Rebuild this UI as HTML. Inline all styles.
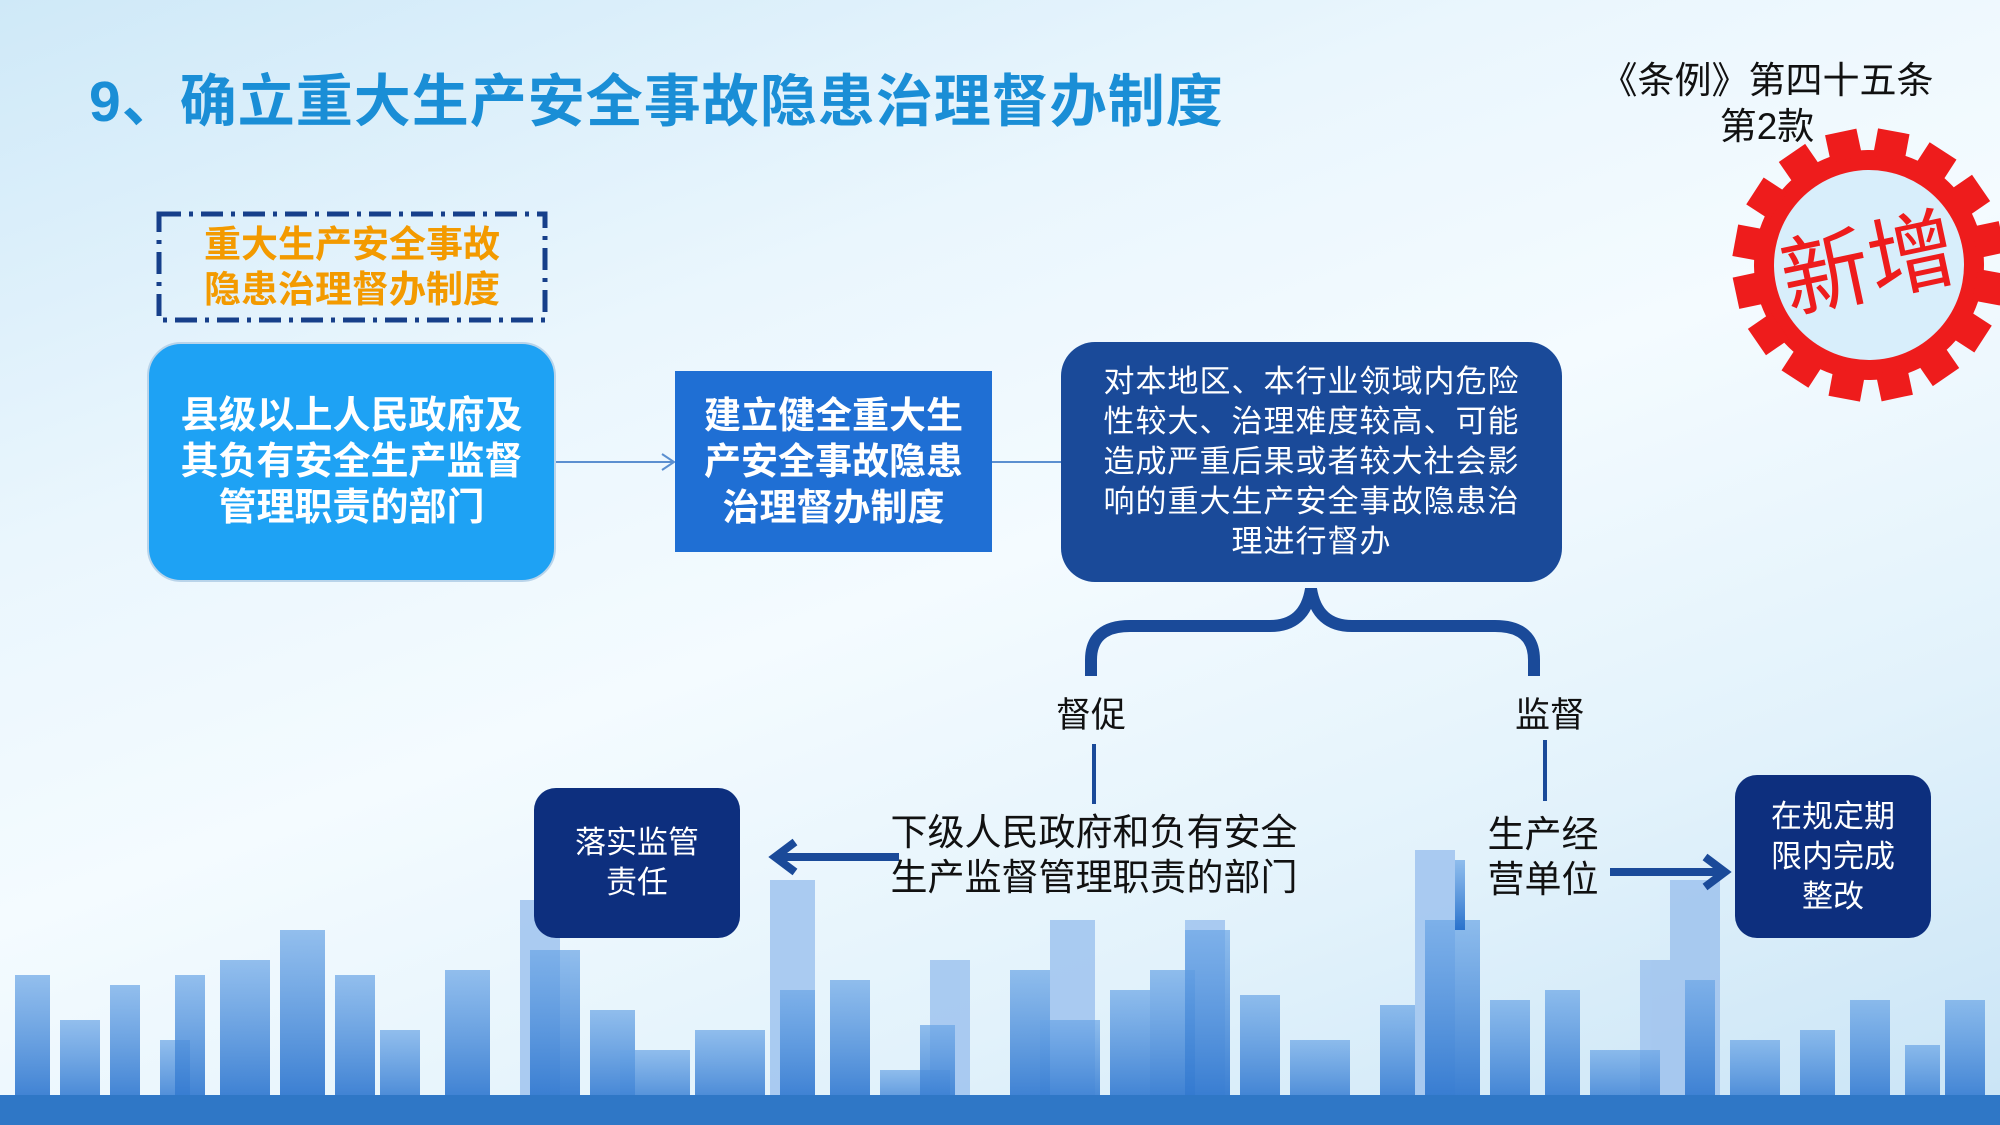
<!DOCTYPE html>
<html><head><meta charset="utf-8"><style>
html,body{margin:0;padding:0}
body{width:2000px;height:1125px;position:relative;overflow:hidden;font-family:"Liberation Sans","Noto Sans CJK SC",sans-serif;
background:linear-gradient(160deg,#cfe9f8 0%,#eaf6fd 30%,#f4fbff 50%,#e2f2fb 75%,#c9e4f6 100%);}
.a{position:absolute}
.c{display:flex;align-items:center;justify-content:center;text-align:center;color:#fff}
</style></head><body>
<svg class="a" style="left:0;top:0" width="2000" height="1125">
<defs><linearGradient id="sk" x1="0" y1="0" x2="0" y2="1"><stop offset="0" stop-color="#6aa5e6" stop-opacity="0.7"/><stop offset="1" stop-color="#2a72cc"/></linearGradient></defs>
<g fill="#9fc3ee" opacity="0.85">
<rect x="520" y="900" width="40" height="225"/><rect x="770" y="880" width="45" height="245"/><rect x="1050" y="920" width="45" height="205"/><rect x="1415" y="850" width="40" height="275"/><rect x="1670" y="880" width="50" height="245"/><rect x="930" y="960" width="40" height="165"/><rect x="1185" y="920" width="40" height="205"/><rect x="1640" y="960" width="40" height="165"/>
</g>
<g fill="url(#sk)">
<rect x="15" y="975" width="35" height="150"/><rect x="60" y="1020" width="40" height="105"/><rect x="110" y="985" width="30" height="140"/><rect x="160" y="1040" width="30" height="85"/><rect x="175" y="975" width="30" height="150"/><rect x="220" y="960" width="50" height="165"/><rect x="280" y="930" width="45" height="195"/><rect x="335" y="975" width="40" height="150"/><rect x="380" y="1030" width="40" height="95"/><rect x="445" y="970" width="45" height="155"/><rect x="530" y="950" width="50" height="175"/><rect x="590" y="1010" width="45" height="115"/><rect x="620" y="1050" width="70" height="75"/><rect x="695" y="1030" width="70" height="95"/><rect x="780" y="990" width="35" height="135"/><rect x="830" y="980" width="40" height="145"/><rect x="880" y="1070" width="70" height="55"/><rect x="920" y="1025" width="35" height="100"/><rect x="1010" y="970" width="40" height="155"/><rect x="1040" y="1020" width="60" height="105"/><rect x="1110" y="990" width="40" height="135"/><rect x="1150" y="970" width="45" height="155"/><rect x="1185" y="930" width="45" height="195"/><rect x="1240" y="995" width="40" height="130"/><rect x="1290" y="1040" width="60" height="85"/><rect x="1380" y="1005" width="35" height="120"/><rect x="1425" y="920" width="55" height="205"/><rect x="1455" y="860" width="10" height="70"/><rect x="1490" y="1000" width="40" height="125"/><rect x="1545" y="990" width="35" height="135"/><rect x="1590" y="1050" width="70" height="75"/><rect x="1685" y="980" width="30" height="145"/><rect x="1730" y="1040" width="50" height="85"/><rect x="1800" y="1030" width="35" height="95"/><rect x="1850" y="1000" width="40" height="125"/><rect x="1905" y="1045" width="35" height="80"/><rect x="1945" y="1000" width="40" height="125"/>
</g>
<rect x="0" y="1095" width="2000" height="30" fill="#2f77c6"/>
<path d="M556 462 H674 M662 454 L674 462 L662 470 M992 462 H1062" stroke="#5b8fd0" stroke-width="2" fill="none"/>
<path d="M1091 676 V660 Q1091 626 1130 626 H1270 Q1305 626 1311 589 Q1317 626 1352 626 H1495 Q1534 626 1534 660 V676" stroke="#1a4a99" stroke-width="12" fill="none"/>
<path d="M1094 744 V804 M1545 740 V801" stroke="#1a4a99" stroke-width="4"/>
<path d="M899 857 H780 M795 842 L775 857 L795 872" stroke="#1a4a99" stroke-width="8" fill="none"/>
<path d="M1610 872 H1720 M1705 857 L1725 872 L1705 887" stroke="#1a4a99" stroke-width="8" fill="none"/>
<rect x="159" y="214" width="386" height="106" fill="none" stroke="#163f8a" stroke-width="5" stroke-dasharray="22 8 4 8"/>
<g transform="translate(1869,265) rotate(-12)">
<g fill="#ee1c1c">
<circle r="115"/>
<g id="t"><rect x="-16" y="-136" width="32" height="28"/></g>
<use href="#t" transform="rotate(22.5)"/><use href="#t" transform="rotate(45)"/><use href="#t" transform="rotate(67.5)"/><use href="#t" transform="rotate(90)"/><use href="#t" transform="rotate(112.5)"/><use href="#t" transform="rotate(135)"/><use href="#t" transform="rotate(157.5)"/><use href="#t" transform="rotate(180)"/><use href="#t" transform="rotate(202.5)"/><use href="#t" transform="rotate(225)"/><use href="#t" transform="rotate(247.5)"/><use href="#t" transform="rotate(270)"/><use href="#t" transform="rotate(292.5)"/><use href="#t" transform="rotate(315)"/><use href="#t" transform="rotate(337.5)"/>
</g>
<circle r="95" fill="#d8eefb"/>
<text x="0" y="30" text-anchor="middle" font-size="88" fill="#ee1c1c" font-family="Liberation Sans,Noto Sans CJK SC,sans-serif">新增</text>
</g>
</svg>
<div class="a" style="left:89px;top:56px;font-size:57px;letter-spacing:1px;font-weight:bold;color:#1a8ed6;white-space:nowrap">9、确立重大生产安全事故隐患治理督办制度</div>
<div class="a" style="left:1567px;top:58px;width:400px;text-align:center;font-size:37px;line-height:46px;color:#111">《条例》第四十五条<br>第2款</div>
<div class="a c" style="left:159px;top:214px;width:386px;height:106px;color:#f39a00;font-weight:bold;font-size:37px;line-height:45px">重大生产安全事故<br>隐患治理督办制度</div>
<div class="a c" style="left:147px;top:342px;width:405px;height:236px;background:#1ea2f4;border:2px solid #b9d4ea;border-radius:34px;font-weight:bold;font-size:38px;line-height:46px">县级以上人民政府及<br>其负有安全生产监督<br>管理职责的部门</div>
<div class="a c" style="left:675px;top:371px;width:317px;height:181px;background:#1f6fd4;font-weight:bold;font-size:37px;line-height:46px">建立健全重大生<br>产安全事故隐患<br>治理督办制度</div>
<div class="a c" style="left:1061px;top:342px;width:501px;height:240px;background:#1a4a99;border-radius:34px;font-size:31px;letter-spacing:1px;line-height:40px">对本地区、本行业领域内危险<br>性较大、治理难度较高、可能<br>造成严重后果或者较大社会影<br>响的重大生产安全事故隐患治<br>理进行督办</div>
<div class="a" style="left:1041px;top:687px;width:100px;text-align:center;font-size:35px;color:#111">督促</div>
<div class="a" style="left:1500px;top:687px;width:100px;text-align:center;font-size:35px;color:#111">监督</div>
<div class="a c" style="left:534px;top:788px;width:206px;height:150px;background:#0d2f7e;border-radius:22px;font-size:31px;line-height:40px">落实监管<br>责任</div>
<div class="a" style="left:874px;top:810px;width:440px;text-align:center;font-size:37px;line-height:45px;color:#111">下级人民政府和负有安全<br>生产监督管理职责的部门</div>
<div class="a" style="left:1463px;top:812px;width:160px;text-align:center;font-size:37px;line-height:45px;color:#111">生产经<br>营单位</div>
<div class="a c" style="left:1735px;top:775px;width:196px;height:163px;background:#0d2f7e;border-radius:22px;font-size:31px;line-height:40px">在规定期<br>限内完成<br>整改</div>
</body></html>
